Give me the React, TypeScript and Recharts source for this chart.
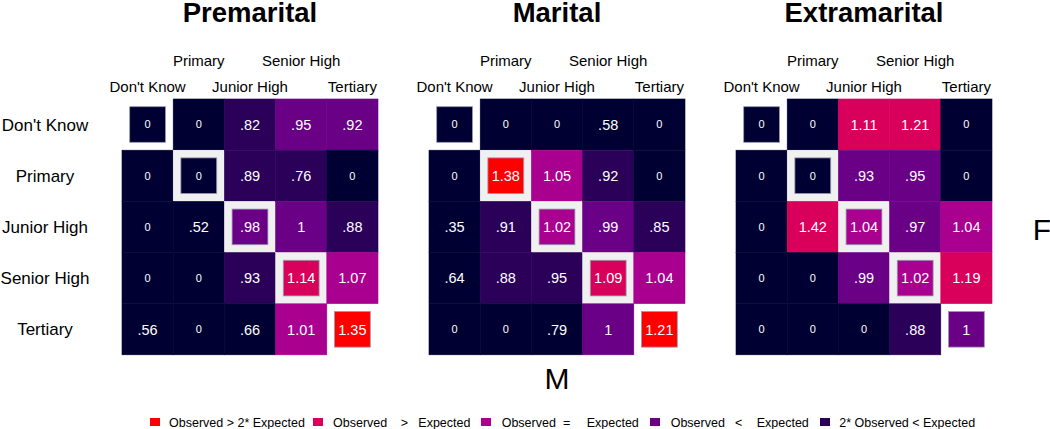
import React from "react";
import { BarChart, Bar, XAxis, YAxis } from "recharts";

const FONT = "'Liberation Sans', Arial, Helvetica, sans-serif";

const education = ["Don't Know", "Primary", "Junior High", "Senior High", "Tertiary"];
const panelTitles = ["Premarital", "Marital", "Extramarital"];

// observed / expected ratios, rows = M, columns = F
const premaritalValues = [
  [0, 0, 0.82, 0.95, 0.92],
  [0, 0, 0.89, 0.76, 0],
  [0, 0.52, 0.98, 1, 0.88],
  [0, 0, 0.93, 1.14, 1.07],
  [0.56, 0, 0.66, 1.01, 1.35],
];
const maritalValues = [
  [0, 0, 0, 0.58, 0],
  [0, 1.38, 1.05, 0.92, 0],
  [0.35, 0.91, 1.02, 0.99, 0.85],
  [0.64, 0.88, 0.95, 1.09, 1.04],
  [0, 0, 0.79, 1, 1.21],
];
const extramaritalValues = [
  [0, 0, 1.11, 1.21, 0],
  [0, 0, 0.93, 0.95, 0],
  [0, 1.42, 1.04, 0.97, 1.04],
  [0, 0, 0.99, 1.02, 1.19],
  [0, 0, 0, 0.88, 1],
];

// colour class per cell: 0 none, 1 2*obs<exp, 2 obs<exp, 3 obs=exp, 4 obs>exp, 5 obs>2*exp
const premaritalClass = [
  [0, 0, 1, 2, 2],
  [0, 0, 1, 1, 0],
  [0, 0, 2, 2, 1],
  [0, 0, 1, 4, 3],
  [0, 0, 0, 3, 5],
];
const maritalClass = [
  [0, 0, 0, 0, 0],
  [0, 5, 3, 1, 0],
  [0, 1, 3, 2, 1],
  [0, 1, 1, 4, 3],
  [0, 0, 0, 2, 5],
];
const extramaritalClass = [
  [0, 0, 4, 4, 0],
  [0, 0, 2, 2, 0],
  [0, 4, 3, 2, 3],
  [0, 0, 2, 3, 4],
  [0, 0, 0, 1, 2],
];

const classColors = ["#000033", "#2a0058", "#6a0085", "#aa008f", "#d9005b", "#ff0000"];

const legendLabels = [
  ["Observed > 2* Expected"],
  ["Observed", ">", "Expected"],
  ["Observed", "=", "Expected"],
  ["Observed", "<", "Expected"],
  ["2* Observed < Expected"],
];
const legendClass = [5, 4, 3, 2, 1];
const legendSquareX = [150, 313, 481, 650, 820];
const legendTextX = [[169], [333, 400.7, 418.3], [501.7, 563, 586.7], [670.7, 735, 756.7], [839.3]];

const panels = [
  { title: panelTitles[0], values: premaritalValues, classes: premaritalClass },
  { title: panelTitles[1], values: maritalValues, classes: maritalClass },
  { title: panelTitles[2], values: extramaritalValues, classes: extramaritalClass },
];

const colKeys = education.map((_, j) => `c${j}`);

const fmt = (v: number) => {
  if (v === 0) return "0";
  let s = v.toFixed(2).replace(/0+$/, "").replace(/\.$/, "");
  if (s.startsWith("0.")) s = s.slice(1);
  return s;
};

const GRID_TOP = 99;
const GRID = 256;
const gridLefts = [122, 429, 736];

const Tile = (props: any) => {
  const { x, y, width, height, payload, col, panel } = props;
  const r = payload.rowIndex;
  const v = panel.values[r][col];
  const cls = panel.classes[r][col];
  const diag = r === col;
  const framed = diag && r > 0 && r < education.length - 1;
  const inset = diag ? width * 0.15 : 0;
  const color = classColors[cls];
  return (
    <g>
      {framed && <rect x={x} y={y} width={width} height={height} fill="#f0f0f0" stroke="#f0f0f0" strokeWidth={0.5} />}
      <rect
        x={x + inset}
        y={y + inset}
        width={width - 2 * inset}
        height={height - 2 * inset}
        fill={color}
        stroke={diag ? "#9a9ab0" : color}
        strokeWidth={diag ? 0.8 : 0.6}
      />
      <text
        x={x + width / 2}
        y={y + height / 2}
        dy="0.36em"
        textAnchor="middle"
        fill="#ffffff"
        fontFamily={FONT}
        fontSize={v === 0 ? 11 : 14.5}
      >
        {fmt(v)}
      </text>
    </g>
  );
};

const ColTick = (props: any) => {
  const { x, y, payload, index } = props;
  const upper = index % 2 === 1;
  return (
    <text x={x} y={upper ? y - 33 : y - 7} textAnchor="middle" fill="#000" fontFamily={FONT} fontSize={15}>
      {education[Math.round(payload.value - 0.5)]}
    </text>
  );
};

const RowTick = (props: any) => {
  const { x, y, payload } = props;
  return (
    <text x={x - 77} y={y + 6} textAnchor="middle" fill="#000" fontFamily={FONT} fontSize={17}>
      {payload.value}
    </text>
  );
};

const Panel = ({ panel, idx }: { panel: any; idx: number }) => {
  const showRows = idx === 0;
  const left = showRows ? 0 : 50;
  const right = 45;
  const data = education.map((row, i) => {
    const d: any = { row, rowIndex: i };
    colKeys.forEach((k) => (d[k] = 1));
    return d;
  });
  const width = (showRows ? gridLefts[0] : left) + GRID + right;
  return (
    <div style={{ position: "absolute", top: 0, left: showRows ? 0 : gridLefts[idx] - left }}>
      <BarChart
        width={width}
        height={GRID_TOP + GRID + 5}
        data={data}
        layout="vertical"
        barCategoryGap={0}
        barGap={0}
        margin={{ top: GRID_TOP - 60, right, left: showRows ? 0 : left, bottom: 5 }}
      >
        <XAxis
          type="number"
          orientation="top"
          domain={[0, education.length]}
          ticks={education.map((_, j) => j + 0.5)}
          interval={0}
          height={60}
          axisLine={false}
          tickLine={false}
          tickSize={0}
          tickMargin={0}
          tick={<ColTick />}
        />
        <YAxis
          type="category"
          dataKey="row"
          hide={!showRows}
          width={gridLefts[0]}
          interval={0}
          axisLine={false}
          tickLine={false}
          tickSize={0}
          tickMargin={0}
          tick={<RowTick />}
        />
        {colKeys.map((k, j) => (
          <Bar
            key={k}
            dataKey={k}
            stackId="cells"
            isAnimationActive={false}
            shape={(p: any) => <Tile {...p} col={j} panel={panel} />}
          />
        ))}
      </BarChart>
    </div>
  );
};

export default function App() {
  return (
    <div style={{ position: "absolute", left: 0, top: 0, width: 1050, height: 429, background: "#fff" }}>
      {panels.map((p, i) => (
        <Panel key={p.title} panel={p} idx={i} />
      ))}
      <svg
        width={1050}
        height={429}
        style={{ position: "absolute", left: 0, top: 0, pointerEvents: "none" }}
      >
        {panels.map((p, i) => (
          <text
            key={p.title}
            x={gridLefts[i] + GRID / 2}
            y={22}
            textAnchor="middle"
            fontFamily={FONT}
            fontWeight="bold"
            fontSize={27.5}
            fill="#000"
          >
            {p.title}
          </text>
        ))}
        <text x={gridLefts[1] + GRID / 2} y={389} textAnchor="middle" fontFamily={FONT} fontSize={30} fill="#000">
          M
        </text>
        <text x={1042} y={240} textAnchor="middle" fontFamily={FONT} fontSize={30} fill="#000">
          F
        </text>
        {legendLabels.map((parts, i) => (
          <g key={i}>
            <rect x={legendSquareX[i]} y={418} width={10} height={8} fill={classColors[legendClass[i]]} />
            {parts.map((t, k) => (
              <text key={k} x={legendTextX[i][k]} y={426.5} fontFamily={FONT} fontSize={12.5} fill="#000">
                {t}
              </text>
            ))}
          </g>
        ))}
      </svg>
    </div>
  );
}
